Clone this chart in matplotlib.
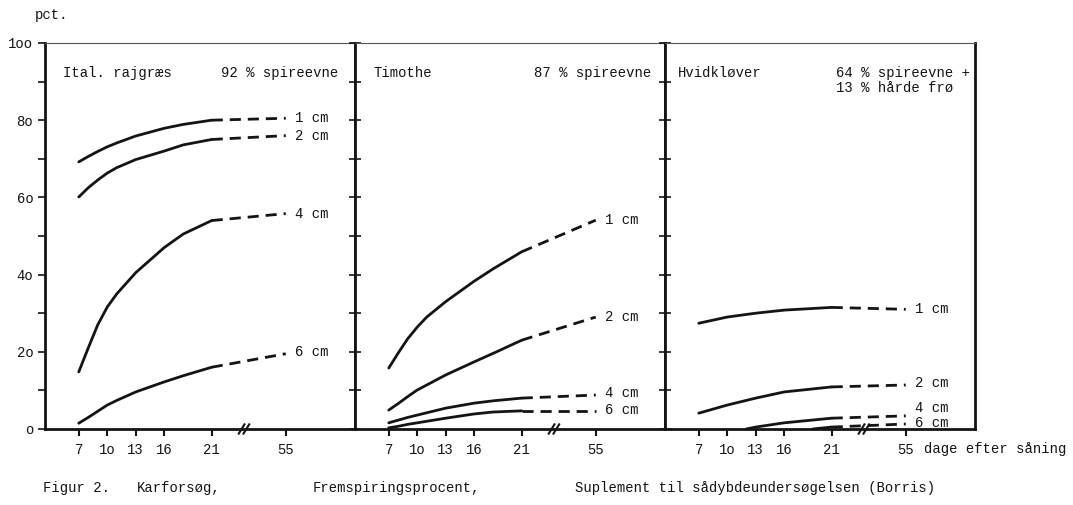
import matplotlib
matplotlib.use('Agg')
import matplotlib.pyplot as plt
import matplotlib.transforms as mtransforms
import numpy as np

plt.rcParams['font.family'] = ['Liberation Mono', 'DejaVu Sans Mono']

# days after sowing where readings were taken
# panel 1: Ital. rajgræs
rg_days = [7, 8, 9, 10, 11, 13, 16, 18, 21, 55]
rg_1cm = [69.2, 70.6, 71.9, 73.1, 74.1, 75.9, 77.9, 78.9, 80.0, 80.5]
rg_2cm = [60.1, 62.5, 64.5, 66.3, 67.7, 69.8, 72.0, 73.6, 75.0, 76.0]
rg_4cm = [14.8, 21.0, 27.0, 31.6, 35.0, 40.5, 47.0, 50.5, 54.0, 55.8]
rg_6cm = [1.5, 3.0, 4.6, 6.2, 7.4, 9.6, 12.2, 13.8, 16.0, 19.5]

# panel 2: Timothe
ti_days = [7, 8, 9, 10, 11, 13, 16, 18, 21, 55]
ti_1cm = [15.8, 19.7, 23.4, 26.4, 29.0, 33.0, 38.3, 41.5, 45.9, 54.1]
ti_2cm = [4.9, 6.6, 8.4, 10.1, 11.4, 14.0, 17.4, 19.6, 23.0, 29.0]
ti_4cm = [1.6, 2.3, 3.0, 3.6, 4.2, 5.4, 6.7, 7.3, 8.0, 8.8]
ti_6cm = [0.3, 0.7, 1.2, 1.6, 2.0, 2.8, 3.9, 4.4, 4.7, 4.7]

# panel 3: Hvidkløver
hk_days = [7, 10, 13, 16, 21, 55]
hk_1cm = [27.4, 29.0, 30.0, 30.8, 31.5, 31.0]
hk_2cm = [4.1, 6.2, 8.0, 9.6, 10.9, 11.4]
hk_4cm_days = [12, 13, 16, 21, 55]
hk_4cm = [0.0, 0.5, 1.6, 2.8, 3.4]
hk_6cm_days = [19, 21, 55]
hk_6cm = [0.0, 0.5, 1.3]

tick_days = [7, 10, 13, 16, 21, 55]
tick_labels = ['7', '1o', '13', '16', '21', '55']
y_ticks = [0, 20, 40, 60, 80, 100]
y_labels = ['o', '2o', '4o', '6o', '8o', '1oo']
depth_labels = ['1 cm', '2 cm', '4 cm', '6 cm']

panels = [
    dict(title='Ital. rajgræs', note=['92 % spireevne'],
         series=[(rg_days, rg_1cm), (rg_days, rg_2cm), (rg_days, rg_4cm), (rg_days, rg_6cm)],
         label_dy=[0, 0, 0, 2]),
    dict(title='Timothe', note=['87 % spireevne'],
         series=[(ti_days, ti_1cm), (ti_days, ti_2cm), (ti_days, ti_4cm), (ti_days, ti_6cm)],
         label_dy=[0, 0, 2, 1]),
    dict(title='Hvidkløver', note=['64 % spireevne +', '13 % hårde frø'],
         series=[(hk_days, hk_1cm), (hk_days, hk_2cm), (hk_4cm_days, hk_4cm), (hk_6cm_days, hk_6cm)],
         label_dy=[0, 2, 8, 1]),
]

# broken day axis: 7..21 linear, 21..55 compressed
K = 7.8 / 34.0


def fwd(d):
    d = np.asarray(d, dtype=float)
    return np.where(d <= 21, d, 21 + (d - 21) * K)


def inv(p):
    p = np.asarray(p, dtype=float)
    return np.where(p <= 21, p, 21 + (p - 21) / K)


INK = '#141414'
fig, axes = plt.subplots(1, 3, figsize=(10.73, 5.05), dpi=100, sharey=True)
fig.subplots_adjust(left=0.042, right=0.9087, bottom=0.1505, top=0.9149, wspace=0)

for i, (ax, p) in enumerate(zip(axes, panels)):
    ax.set_xscale('function', functions=(fwd, inv))
    ax.set_xlim(3.45, float(inv(36.1)))
    ax.set_ylim(0, 100)

    for (days, vals), lab, dy in zip(p['series'], depth_labels, p['label_dy']):
        days = np.array(days)
        vals = np.array(vals)
        solid = days <= 21
        ax.plot(days[solid], vals[solid], color=INK, lw=2.0, solid_capstyle='round',
                solid_joinstyle='round', clip_on=False)
        dash = days >= 21
        ax.plot(days[dash], vals[dash], color=INK, lw=2.0, ls=(0, (4, 2.5)),
                clip_on=False)
        ax.annotate(lab, xy=(days[-1], vals[-1]), xytext=(9, dy),
                    textcoords='offset pixels', ha='left', va='center',
                    fontsize=10, color=INK)

    ax.text(0.058 if i < 2 else 0.042, 0.922, p['title'], transform=ax.transAxes,
            fontsize=10, color=INK, va='center', ha='left')
    if len(p['note']) == 1:
        ax.text(0.945 if i == 0 else 0.955, 0.922, p['note'][0], transform=ax.transAxes,
                fontsize=10, color=INK, va='center', ha='right')
    else:
        for j, line in enumerate(p['note']):
            ax.text(0.55, 0.922 - j * 0.038, line, transform=ax.transAxes,
                    fontsize=10, color=INK, va='center', ha='left')

    ax.set_xticks(tick_days)
    ax.set_xticklabels(tick_labels)
    ax.xaxis.set_minor_locator(matplotlib.ticker.NullLocator())
    ax.tick_params(axis='x', direction='out', length=5, width=1.5, color=INK,
                   labelsize=10, labelcolor=INK, pad=5)
    ax.set_yticks(range(0, 101, 10))
    ax.tick_params(axis='y', direction='inout', length=8, width=1.2, color=INK,
                   labelsize=10, labelcolor=INK, left=True, right=False)
    for s in ['left', 'right']:
        ax.spines[s].set_linewidth(2.0)
        ax.spines[s].set_color(INK)
    ax.spines['bottom'].set_linewidth(2.0)
    ax.spines['bottom'].set_color(INK)
    ax.spines['top'].set_linewidth(0.8)
    ax.spines['top'].set_color('#555555')

    # axis break marks "//"
    trans = mtransforms.blended_transform_factory(ax.transData, ax.transAxes)
    for off in (-0.25, 0.25):
        xa = float(inv(24.4 + off - 0.3))
        xb = float(inv(24.4 + off + 0.3))
        ax.plot([xa, xb], [-0.012, 0.012], transform=trans, color=INK, lw=1.5,
                clip_on=False)

axes[0].set_yticks(range(0, 101, 10))
axes[0].set_yticklabels([y_labels[y_ticks.index(v)] if v in y_ticks else '' for v in range(0, 101, 10)])
axes[0].tick_params(axis='y', direction='out', length=5)

trans3 = mtransforms.blended_transform_factory(axes[2].transData, axes[2].transAxes)
axes[2].annotate('dage efter såning', xy=(55, 0), xycoords=trans3,
                 xytext=(18, -20), textcoords='offset pixels', fontsize=10,
                 color=INK, ha='left', va='center')

fig.text(35 / 1073, 1 - 15 / 505, 'pct.', fontsize=10, color=INK, ha='left', va='center')
fig.text(43 / 1073, 1 - 488 / 505, 'Figur 2.', fontsize=10, color=INK, ha='left', va='center')
fig.text(137 / 1073, 1 - 488 / 505, 'Karforsøg,', fontsize=10, color=INK, ha='left', va='center')
fig.text(313 / 1073, 1 - 488 / 505, 'Fremspiringsprocent,', fontsize=10, color=INK,
         ha='left', va='center')
fig.text(575 / 1073, 1 - 488 / 505, 'Suplement til sådybdeundersøgelsen (Borris)',
         fontsize=10, color=INK, ha='left', va='center')

fig.savefig('out.png', dpi=100)
